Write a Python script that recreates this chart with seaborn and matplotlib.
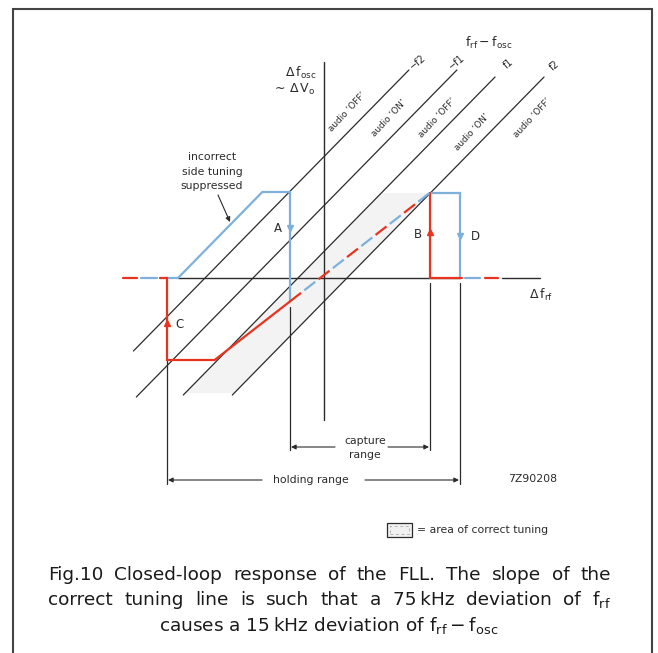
import numpy as np
import pandas as pd
import matplotlib
matplotlib.use('Agg')
import matplotlib.pyplot as plt
import seaborn as sns
from matplotlib.patches import Rectangle, Polygon

# x = delta f_rf, y = delta f_osc (origin at the axis crossing)
# lines of constant f_rf - f_osc
line_labels = ['\u2212f2', '\u2212f1', 'f1', 'f2']
line_offsets = [-119, -71, -26, 23]     # where each line crosses the delta f_rf axis
line_bottoms = [-73, -119, -117, -117]
line_tops = [208, 208, 201, 201]
line_slope = 1.02

# correct tuning line
correct_slope = 0.777
correct_offset = 3

capture_range = [-34, 106]
holding_range = [-157, 136]
suppress_start = -146   # incorrect side tuning line leaves the axis here
plateau = 86
red_floor = -82

audio_texts = ['OFF', 'ON', 'OFF', 'ON', 'OFF']
audio_x = [23, 65, 113, 148, 208]
audio_y = [166, 160, 160, 146, 160]

caption = ['Fig.10  Closed-loop response of the FLL. The slope of the',
           'correct tuning line is such that a 75\u2009kHz deviation of f$_{rf}$',
           'causes a 15\u2009kHz deviation of f$_{rf}-$f$_{osc}$']

RED = '#e8341f'
BLUE = '#7db1dc'
INK = '#2b2b2b'
SMALL = 7.8

sns.set_theme(style='white')
plt.rcParams['font.family'] = ['DejaVu Sans']
plt.rcParams['lines.scale_dashes'] = False
plt.rcParams['mathtext.default'] = 'regular'


def correct(x):
    return correct_slope * x + correct_offset


fig = plt.figure(figsize=(6.58, 6.53), dpi=100)
ax = fig.add_axes([0, 0, 1, 1])
ax.set_xlim(-324, 334)
ax.set_ylim(-375, 278)
ax.axis('off')

# shaded area of correct tuning (between f1 and f2 lines)
band_lo, band_hi = -115, 85
band = Polygon([(line_offsets[2] + band_lo / line_slope, band_lo),
                (line_offsets[3] + band_lo / line_slope, band_lo),
                (line_offsets[3] + band_hi / line_slope, band_hi),
                (line_offsets[2] + band_hi / line_slope, band_hi)],
               closed=True, facecolor='#d8d8d8', edgecolor='none', alpha=0.3, zorder=0)
ax.add_patch(band)

# tuning lines via seaborn
rows = []
for lab, c, b, t in zip(line_labels, line_offsets, line_bottoms, line_tops):
    for y in (b, t):
        rows.append({'line': lab, 'x': c + y / line_slope, 'y': y})
lines_df = pd.DataFrame(rows)
sns.lineplot(data=lines_df, x='x', y='y', units='line', estimator=None, sort=False,
             color=INK, lw=0.9, ax=ax, legend=False)

cap0, cap1 = capture_range
hold0, hold1 = holding_range

# axes
ax.plot([suppress_start, hold1], [0, 0], color=INK, lw=1.0, zorder=1)
ax.plot([178, 216], [0, 0], color=INK, lw=1.0, zorder=1)
ax.plot([0, 0], [-142, 216], color=INK, lw=1.0, zorder=1)

# range markers
ax.plot([cap0, cap0], [correct(cap0) - 6, -172], color=INK, lw=0.9)
ax.plot([cap1, cap1], [-5, -172], color=INK, lw=0.9)
ax.plot([hold0, hold0], [red_floor, -206], color=INK, lw=0.9)
ax.plot([hold1, hold1], [-5, -206], color=INK, lw=0.9)

arr = dict(arrowstyle='-|>', color=INK, lw=0.8, mutation_scale=7, shrinkA=0, shrinkB=0)
ax.annotate('', xy=(cap0 + 1, -169), xytext=(cap0 + 45, -169), arrowprops=arr)
ax.annotate('', xy=(cap1 - 1, -169), xytext=(cap1 - 42, -169), arrowprops=arr)
ax.annotate('', xy=(hold0 + 1, -202), xytext=(hold0 + 95, -202), arrowprops=arr)
ax.annotate('', xy=(hold1 - 1, -202), xytext=(hold1 - 95, -202), arrowprops=arr)
ax.text(41, -163, 'capture', ha='center', va='center', fontsize=SMALL, color=INK)
ax.text(41, -177, 'range', ha='center', va='center', fontsize=SMALL, color=INK)
ax.text(-13, -202, 'holding range', ha='center', va='center', fontsize=SMALL, color=INK)
ax.text(184, -201, '7Z90208', ha='left', va='center', fontsize=SMALL, color=INK)

# blue path
bx = [hold0 - 7, suppress_start, suppress_start + plateau / line_slope, cap0, cap0]
by = [0, 0, plateau, plateau, correct(cap0)]
ax.plot(bx, by, color=BLUE, lw=1.6, zorder=3, solid_joinstyle='miter')
ax.plot([cap1, hold1, hold1], [correct(cap1), correct(cap1), 0], color=BLUE, lw=1.6, zorder=3,
        solid_joinstyle='miter')

# red path
ax.plot([hold1 + 2, cap1, cap1], [0, 0, correct(cap1)], color=RED, lw=1.6, zorder=4,
        solid_joinstyle='miter')
floor_x = (red_floor - correct_offset) / correct_slope
ax.plot([cap0, floor_x, hold0, hold0, hold0 - 7], [correct(cap0), red_floor, red_floor, 0, 0],
        color=RED, lw=1.6, zorder=4, solid_joinstyle='miter')

# dashed correct tuning line: red and blue dashes
ax.plot([cap0, cap1], [correct(cap0), correct(cap1)], color=RED, lw=1.6, zorder=4,
        linestyle=(0, (10, 16)))
ax.plot([cap0, cap1], [correct(cap0), correct(cap1)], color=BLUE, lw=1.6, zorder=4,
        linestyle=(13, (10, 16)))

# dashes along the axis outside the holding range
for seg in [(-201, -187), (161, 174)]:
    ax.plot(seg, [0, 0], color=RED, lw=1.6, zorder=4)
for seg in [(-183, -167), (141, 156)]:
    ax.plot(seg, [0, 0], color=BLUE, lw=1.6, zorder=4)

# arrow heads on the paths
ax.plot(cap0, 50, marker='v', color=BLUE, ms=5, zorder=5)
ax.plot(hold1, 42, marker='v', color=BLUE, ms=5, zorder=5)
ax.plot(cap1, 46, marker='^', color=RED, ms=5, zorder=5)
ax.plot(hold0, -45, marker='^', color=RED, ms=5, zorder=5)

for lab, xx, yy in [('A', -46, 50), ('B', 94, 43), ('C', -144, -47), ('D', 151, 42)]:
    ax.text(xx, yy, lab, ha='center', va='center', fontsize=8.5, color=INK)

# incorrect side tuning note
for txt, yy in [('incorrect', 121), ('side tuning', 106), ('suppressed', 92)]:
    ax.text(-112, yy, txt, ha='center', va='center', fontsize=SMALL, color=INK)
ax.annotate('', xy=(-94, 56), xytext=(-106, 83),
            arrowprops=dict(arrowstyle='-|>', color=INK, lw=0.8, mutation_scale=7,
                            shrinkA=0, shrinkB=0))

# axis labels
ax.text(-8, 205, r'$\Delta\,f_{osc}$', ha='right', va='center', fontsize=9, color=INK)
ax.text(-8, 189, r'$\sim\,\Delta\,V_{o}$', ha='right', va='center', fontsize=9, color=INK)
ax.text(217, -17, r'$\Delta\,f_{rf}$', ha='center', va='center', fontsize=9, color=INK)
ax.text(165, 235, r'$f_{rf}-f_{osc}$', ha='center', va='center', fontsize=9, color=INK)

# line labels and audio regions
for lab, xx, yy in zip(line_labels, [94, 133, 185, 231], [216, 216, 214, 212]):
    ax.text(xx, yy, lab, ha='center', va='center', fontsize=7, color=INK, rotation=40)
for txt, xx, yy in zip(audio_texts, audio_x, audio_y):
    ax.text(xx, yy, 'audio \u2018' + txt + '\u2019', ha='center', va='center',
            fontsize=6.4, color=INK, rotation=47)

# legend
ax.add_patch(Rectangle((63, -259), 25, 14, facecolor='#f0f0f0', edgecolor=INK, lw=0.9))
ax.add_patch(Rectangle((66, -256), 19, 8, facecolor='none', edgecolor='#aaaaaa', lw=0.6,
                       linestyle=(0, (2, 2))))
ax.text(93, -252, '= area of correct tuning', ha='left', va='center', fontsize=SMALL, color=INK)

# frame
ax.plot([-311, -311, 328, 328], [-380, 269, 269, -380], color='#444444', lw=1.5,
        solid_joinstyle='miter', clip_on=False)

# caption: first two lines justified, last line centred
renderer = fig.canvas.get_renderer()
left, right = -276, 287
cap_y = [-297, -322, -347]
for i, (txt, yy) in enumerate(zip(caption, cap_y)):
    if i == len(caption) - 1:
        ax.text(5, yy, txt, ha='center', va='center', fontsize=13.3, color='#1a1a1a')
        continue
    words = txt.split(' ')
    words = [w for w in words if w]
    objs = [ax.text(0, yy, w, ha='left', va='center', fontsize=13.3, color='#1a1a1a')
            for w in words]
    inv = ax.transData.inverted()
    widths = []
    for o in objs:
        bb = o.get_window_extent(renderer)
        x0 = inv.transform((bb.x0, bb.y0))[0]
        x1 = inv.transform((bb.x1, bb.y0))[0]
        widths.append(x1 - x0)
    gap = (right - left - sum(widths)) / (len(words) - 1)
    xpos = left
    for o, w in zip(objs, widths):
        o.set_x(xpos)
        xpos += w + gap

fig.savefig('out.png', dpi=100)
